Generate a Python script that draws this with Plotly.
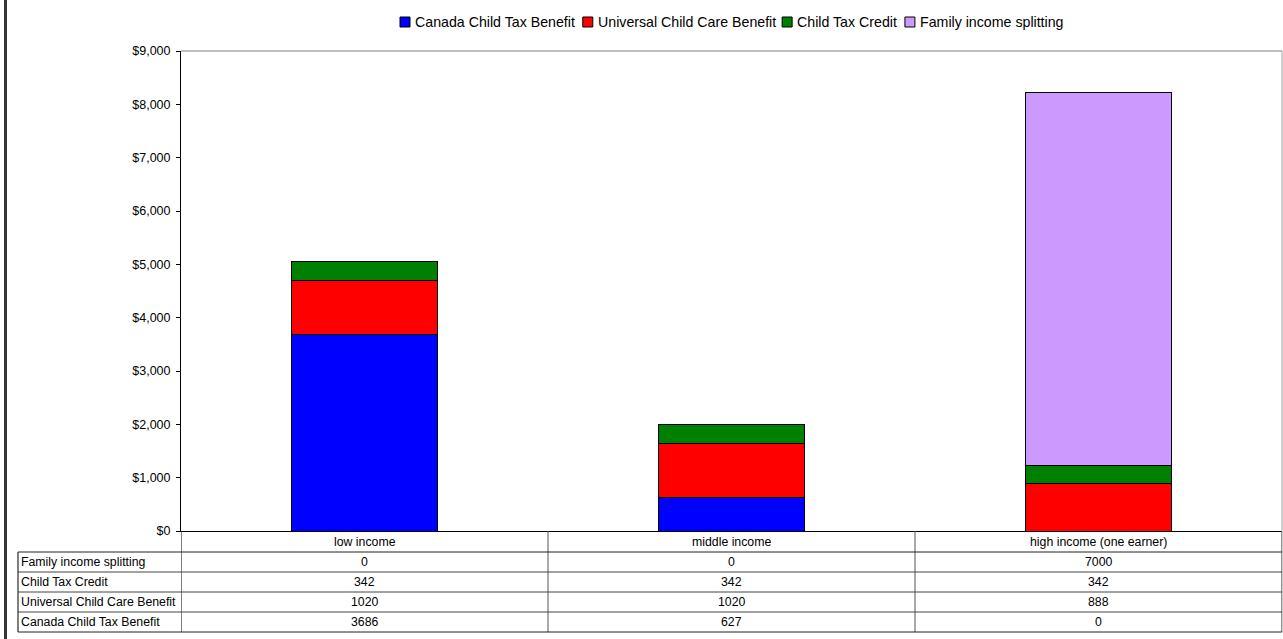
import plotly.graph_objects as go

# ---- data ----
categories = ["low income", "middle income", "high income (one earner)"]
series_names = ["Canada Child Tax Benefit", "Universal Child Care Benefit",
                "Child Tax Credit", "Family income splitting"]
cctb = [3686, 627, 0]
uccb = [1020, 1020, 888]
ctc = [342, 342, 342]
fis = [0, 0, 7000]
series_values = [cctb, uccb, ctc, fis]
series_colors = ["#0000FF", "#FF0000", "#008000", "#CC99FF"]
y_tick_values = [0, 1000, 2000, 3000, 4000, 5000, 6000, 7000, 8000, 9000]
y_tick_labels = ["$" + format(v, ",") for v in y_tick_values]

# ---- layout constants (pixels) ----
W, H = 1283, 639
PLOT_L, PLOT_R = 181, 1282
PLOT_T, PLOT_B = 51, 531
HEADER_H = 21
ROW_H = 20
TABLE_L = 18
LEGEND_Y = 22
LEGEND_SQ = 10
LEGEND_TEXT_GAP = 4
LEGEND_ITEM_GAP = 7
LEGEND_START = 400
FONT = "Liberation Sans, Arial, sans-serif"
TABLE_FONT = 12.3
TICK_FONT = 12.5
LEGEND_FONT = 14.2

# Arial / Liberation Sans advance widths (per 1000 em) for legend layout
_ARIAL = {" ": 278, "B": 667, "C": 722, "F": 611, "T": 611, "U": 722,
          "a": 556, "c": 500, "d": 556, "e": 556, "f": 278, "g": 556, "h": 556,
          "i": 222, "l": 222, "m": 833, "n": 556, "o": 556, "p": 556, "r": 333,
          "s": 500, "t": 278, "v": 500, "x": 500, "y": 500}


def text_width(s, size):
    return sum(_ARIAL.get(ch, 556) for ch in s) * size / 1000.0


def py(p):
    return 1 - p / H


def px(p):
    return p / W


fig = go.Figure()
xs = list(range(len(categories)))
for name, vals, col in zip(series_names, series_values, series_colors):
    fig.add_trace(go.Bar(
        x=xs, y=vals, name=name, width=0.4,
        marker=dict(color=col, line=dict(color="black", width=1)),
    ))

shapes = []
annotations = []

# top and right plot border (gray)
shapes.append(dict(type="line", xref="paper", yref="paper",
                   x0=px(PLOT_L), x1=px(PLOT_R), y0=py(PLOT_T), y1=py(PLOT_T),
                   line=dict(color="#808080", width=1)))
shapes.append(dict(type="line", xref="paper", yref="paper",
                   x0=px(PLOT_R), x1=px(PLOT_R), y0=py(PLOT_T), y1=py(PLOT_B + HEADER_H + 4 * ROW_H),
                   line=dict(color="#A0A0A0", width=1)))
# left chart border (thick dark)
shapes.append(dict(type="line", xref="paper", yref="paper",
                   x0=px(5.5), x1=px(5.5), y0=0, y1=1,
                   line=dict(color="#333333", width=3)))

# ---- custom legend (square + text) ----
lx = LEGEND_START
for name, col in zip(series_names, series_colors):
    shapes.append(dict(type="rect", xref="paper", yref="paper",
                       x0=px(lx), x1=px(lx + LEGEND_SQ),
                       y0=py(LEGEND_Y + LEGEND_SQ / 2), y1=py(LEGEND_Y - LEGEND_SQ / 2),
                       fillcolor=col, line=dict(color="black", width=1)))
    tx = lx + LEGEND_SQ + LEGEND_TEXT_GAP
    annotations.append(dict(x=px(tx), y=py(LEGEND_Y), xref="paper", yref="paper",
                            text=name, showarrow=False, xanchor="left", yanchor="middle",
                            xshift=-1, font=dict(size=LEGEND_FONT, color="black", family=FONT)))
    lx = tx + text_width(name, LEGEND_FONT) + LEGEND_ITEM_GAP

# ---- data table below the axis ----
n_rows = len(series_names)
table_bottom = PLOT_B + HEADER_H + n_rows * ROW_H
for i in range(len(categories) + 1):
    xv = i - 0.5
    shapes.append(dict(type="line", xref="x", yref="paper",
                       x0=xv, x1=xv, y0=py(PLOT_B), y1=py(table_bottom),
                       line=dict(color="#000000" if i == 0 else "#555555", width=1)))
shapes.append(dict(type="line", xref="paper", yref="paper",
                   x0=px(TABLE_L), x1=px(TABLE_L), y0=py(PLOT_B + HEADER_H), y1=py(table_bottom),
                   line=dict(color="#000000", width=1)))
for r in range(n_rows + 1):
    yy = PLOT_B + HEADER_H + r * ROW_H
    shapes.append(dict(type="line", xref="paper", yref="paper",
                       x0=px(TABLE_L), x1=px(PLOT_R), y0=py(yy), y1=py(yy),
                       line=dict(color="#222222" if r in (0, n_rows) else "#444444", width=1)))

for i, c in enumerate(categories):
    annotations.append(dict(x=i, y=py(PLOT_B + HEADER_H / 2), xref="x", yref="paper",
                            text=c, showarrow=False, xanchor="center", yanchor="middle",
                            font=dict(size=TABLE_FONT, color="black", family=FONT)))
for r, idx in enumerate(reversed(range(n_rows))):
    yc = PLOT_B + HEADER_H + r * ROW_H + ROW_H / 2
    annotations.append(dict(x=px(TABLE_L + 1), y=py(yc), xref="paper", yref="paper",
                            text=series_names[idx], showarrow=False,
                            xanchor="left", yanchor="middle",
                            font=dict(size=TABLE_FONT, color="black", family=FONT)))
    for i in range(len(categories)):
        annotations.append(dict(x=i, y=py(yc), xref="x", yref="paper",
                                text=str(series_values[idx][i]), showarrow=False,
                                xanchor="center", yanchor="middle",
                                font=dict(size=TABLE_FONT, color="black", family=FONT)))

fig.update_layout(
    width=W, height=H,
    margin=dict(l=0, r=0, t=0, b=0, autoexpand=False),
    paper_bgcolor="white", plot_bgcolor="white",
    barmode="stack",
    font=dict(family=FONT, color="black", size=TABLE_FONT),
    showlegend=False,
    xaxis=dict(domain=[px(PLOT_L), px(PLOT_R)], range=[-0.5, len(categories) - 0.5],
               showticklabels=False, ticks="", showgrid=False, zeroline=False,
               showline=True, linecolor="black", linewidth=1, fixedrange=True),
    yaxis=dict(domain=[py(PLOT_B), py(PLOT_T)], range=[0, 9000],
               tickmode="array", tickvals=y_tick_values, ticktext=y_tick_labels,
               ticks="outside", ticklen=4, tickcolor="black", ticklabelstandoff=3,
               showgrid=False, zeroline=False, showline=True, linecolor="black",
               linewidth=1, tickfont=dict(size=TICK_FONT, family=FONT, color="black")),
    shapes=shapes,
    annotations=annotations,
)

fig.write_html("out.html")
